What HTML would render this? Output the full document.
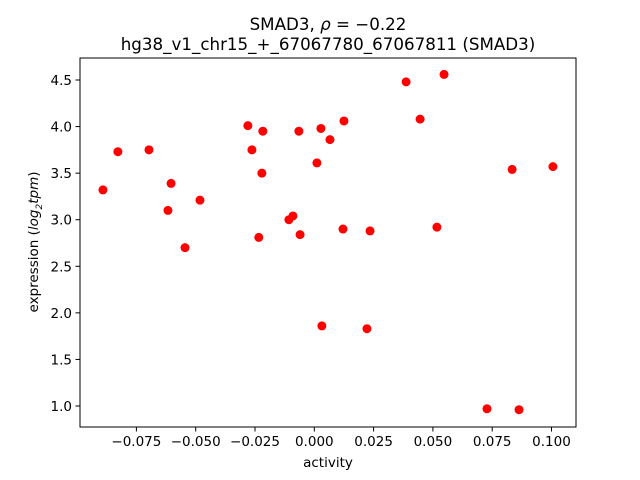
<!DOCTYPE html>
<html><head><meta charset="utf-8"><style>body{margin:0;background:#fff}svg{display:block;font-family:"DejaVu Sans","Liberation Sans",sans-serif}</style></head>
<body>
<svg id="chart" width="640" height="480">
<text x="328" y="30" text-anchor="middle" font-size="16.7">SMAD3, <tspan font-style="italic">ρ</tspan> = −0.22</text>
<text x="328" y="50" text-anchor="middle" font-size="16.7">hg38_v1_chr15_+_67067780_67067811 (SMAD3)</text>
<g id="marks"></g>
<rect x="80" y="58" width="496" height="369" fill="none" stroke="#000" stroke-width="1"/>
<g id="axes"></g>
<text x="328" y="467" text-anchor="middle" font-size="13.5">activity</text>
<text transform="translate(38,242) rotate(-90)" text-anchor="middle" font-size="13.5">expression (<tspan font-style="italic">log</tspan><tspan font-size="9" dy="4" font-style="italic">2</tspan><tspan dy="-4" font-style="italic">tpm</tspan>)</text>
</svg>
<script>
const xValues=[-0.0891,-0.0828,-0.0697,-0.0604,-0.0617,-0.0545,-0.0482,-0.0280,-0.0263,-0.0217,-0.0221,-0.0234,-0.0107,-0.0090,-0.0065,-0.0060,0.0011,0.0028,0.0032,0.0066,0.0125,0.0121,0.0222,0.0235,0.0387,0.0446,0.0517,0.0547,0.0728,0.0834,0.0863,0.1006];
const yValues=[3.32,3.73,3.75,3.39,3.10,2.70,3.21,4.01,3.75,3.95,3.50,2.81,3.00,3.04,3.95,2.84,3.61,3.98,1.86,3.86,4.06,2.90,1.83,2.88,4.48,4.08,2.92,4.56,0.97,3.54,0.96,3.57];
const xTicks=[-0.075,-0.05,-0.025,0,0.025,0.05,0.075,0.1];
const xTickLabels=["−0.075","−0.050","−0.025","0.000","0.025","0.050","0.075","0.100"];
const yTicks=[1,1.5,2,2.5,3,3.5,4,4.5];
const yTickLabels=["1.0","1.5","2.0","2.5","3.0","3.5","4.0","4.5"];
const NS="http://www.w3.org/2000/svg";
function sx(v){return 314.3+v*2372;}
function sy(v){return 406-(v-1)*93.14;}
const marks=document.getElementById('marks');
xValues.forEach((xv,i)=>{
 const c=document.createElementNS(NS,'circle');
 c.setAttribute('cx',sx(xv));c.setAttribute('cy',sy(yValues[i]));c.setAttribute('r',4.5);c.setAttribute('fill','#ff0000');
 
 
 marks.appendChild(c);
});
const axes=document.getElementById('axes');
xTicks.forEach((t,i)=>{
 const x=sx(t);
 const l=document.createElementNS(NS,'line');
 l.setAttribute('x1',x);l.setAttribute('x2',x);l.setAttribute('y1',427);l.setAttribute('y2',431.5);l.setAttribute('stroke','#000');
 
 
 axes.appendChild(l);
 const tx=document.createElementNS(NS,'text');
 tx.setAttribute('x',x);tx.setAttribute('y',446);tx.setAttribute('text-anchor','middle');tx.setAttribute('font-size','13.5');
 tx.textContent=xTickLabels[i];
 
 
 axes.appendChild(tx);
});
yTicks.forEach((t,i)=>{
 const y=sy(t);
 const l=document.createElementNS(NS,'line');
 l.setAttribute('x1',75.5);l.setAttribute('x2',80);l.setAttribute('y1',y);l.setAttribute('y2',y);l.setAttribute('stroke','#000');
 
 
 axes.appendChild(l);
 const tx=document.createElementNS(NS,'text');
 tx.setAttribute('x',72);tx.setAttribute('y',y+5);tx.setAttribute('text-anchor','end');tx.setAttribute('font-size','13.5');
 tx.textContent=yTickLabels[i];
 
 
 axes.appendChild(tx);
});
</script>
</body></html>
